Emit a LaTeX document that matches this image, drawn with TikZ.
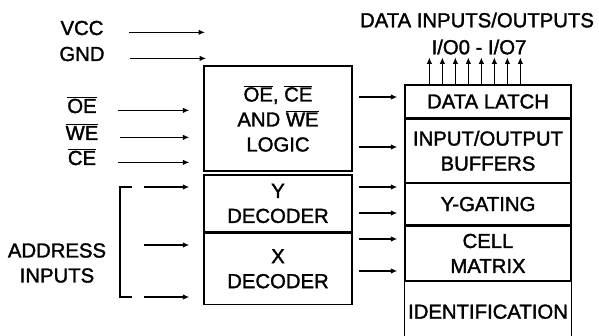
\documentclass[tikz,border=0pt]{standalone}
\usepackage{fontspec}
\setmainfont{Liberation Sans}[FakeBold=1.6]
\usetikzlibrary{arrows.meta}

% active-low signal name
\newcommand{\actlow}[1]{$\overline{\mbox{#1}}$}

\begin{document}
\begin{tikzpicture}[x=1pt,y=-1pt,
  font=\fontsize{20.3}{25}\selectfont,
  line width=1.3pt,
  sig/.style={-{Latex[length=6.5pt,width=5.5pt]}},
  blk/.style={draw,inner sep=0pt,align=center,minimum width=148pt},
  col/.style={draw,inner sep=0pt,align=center,minimum width=166pt},
  lbl/.style={inner sep=0pt,align=center}]
\useasboundingbox (0,0) rectangle (599,336);

%control logic and decoders
\node[blk,minimum height=105pt] (logic) at (278,118.5) {\actlow{OE}, \actlow{CE}\\AND \actlow{WE}\\LOGIC};
\node[blk,minimum height=57pt] (ydec) at (278,203.5) {Y\\DECODER};
\node[blk,minimum height=71pt,anchor=north] (xdec) at (ydec.south) {X\\DECODER};

%memory column
\node[col,minimum height=33pt] (latch) at (488,101.5) {DATA LATCH};
\node[col,minimum height=63pt,anchor=north] (buf) at (latch.south) {INPUT/OUTPUT\\BUFFERS};
\node[col,minimum height=41pt,anchor=north] (ygate) at (buf.south) {Y-GATING};
\node[col,minimum height=55pt,anchor=north] (matrix) at (ygate.south) {CELL\\MATRIX};
\node[col,draw=none,minimum height=59pt,anchor=north] (ident) at (matrix.south) {IDENTIFICATION};
\draw (ident.south west) -- (ident.north west) (ident.north east) -- (ident.south east);

%supply and control pins
\node[lbl,anchor=base] (vcc) at (82,35) {VCC};
\node[lbl,anchor=base] (gnd) at (82,61) {GND};
\node[lbl,anchor=base] (oe) at (82,113) {\actlow{OE}};
\node[lbl,anchor=base] (we) at (82,140) {\actlow{WE}};
\node[lbl,anchor=base] (ce) at (82,165) {\actlow{CE}};
\foreach \s in {vcc,gnd}
  \draw[sig] (\s.mid east) ++(25,0) -- ++(76,0);
\foreach \s in {oe,we,ce}
  \draw[sig,shorten >=14pt] (\s.mid east) ++(21,0) -- (\s.mid east -| logic.west);

%address bus
\node[lbl] (addr) at (57,263) {ADDRESS\\INPUTS};
\draw (132,187) -- (120,187) -- (120,297) -- (132,297);
\foreach \y in {187,245,297}
  \draw[sig,shorten >=14pt] (144,\y) -- (ydec.west |- 0,\y);

%internal paths
\foreach \y/\a/\b in {97/logic/latch,147/logic/buf,187/ydec/ygate,213/ydec/ygate,239/xdec/matrix,271/xdec/matrix}
  \draw[sig,shorten <=6pt,shorten >=7pt] (\a.east |- 0,\y) -- (\b.west |- 0,\y);

%data lines
\foreach \i in {0,...,7}
  \draw[sig] ([xshift=25pt+\i*13pt]latch.north west) -- ++(0,-27);
\node[lbl] (dio) at (477,20) {DATA INPUTS/OUTPUTS};
\node[lbl] (ionum) at (479,47) {I/O0 - I/O7};

\end{tikzpicture}
\end{document}
